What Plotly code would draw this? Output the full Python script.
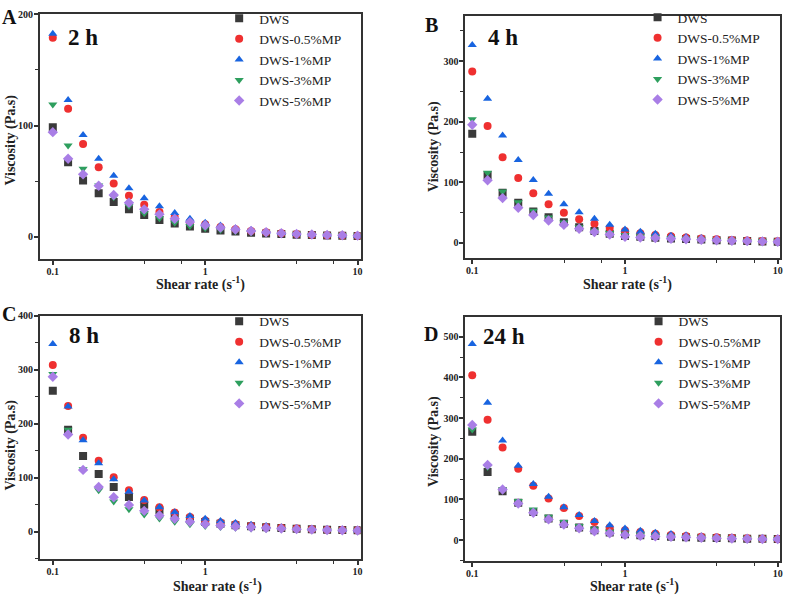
import plotly.graph_objects as go
from plotly.subplots import make_subplots

# shear rate points (s^-1), 10 per decade
shear_rate = [0.1, 0.126, 0.158, 0.2, 0.251, 0.316, 0.398, 0.501, 0.631, 0.794,
              1, 1.26, 1.58, 2, 2.51, 3.16, 3.98, 5.01, 6.31, 7.94, 10]

series_names = ["DWS", "DWS-0.5%MP", "DWS-1%MP", "DWS-3%MP", "DWS-5%MP"]

# 2 h
visc_2h_dws = [98.4, 67, 50.5, 39, 31, 24.5, 19.4, 15, 11.7, 9, 7, 5.5, 4.5, 3.5, 2.8, 2.2, 1.7, 1.3, 1, 0.8, 0.6]
visc_2h_05 = [179, 115, 83.4, 62.5, 47.8, 36.8, 28.7, 22, 17.6, 13, 11, 8.5, 6.5, 5, 3.8, 3, 2.2, 1.6, 1.2, 0.9, 0.7]
visc_2h_1 = [182.7, 122.9, 91.5, 70, 54.7, 43.6, 34.4, 27.2, 21.2, 16, 12.5, 10, 7.5, 5.8, 4.4, 3.3, 2.5, 1.9, 1.4, 1.0, 0.8]
visc_2h_3 = [119, 82, 61, 46, 35.5, 27.5, 21, 16.5, 12.5, 9.5, 7.5, 6, 4.8, 3.8, 3, 2.4, 1.9, 1.5, 1.1, 0.9, 0.7]
visc_2h_5 = [94, 70, 56, 45.7, 37.4, 30.5, 24.5, 20, 16, 13, 10.2, 8, 6.4, 5, 3.9, 3, 2.3, 1.8, 1.4, 1.1, 0.8]

# 4 h
visc_4h_dws = [180, 112, 83, 66.4, 52, 42.5, 34.3, 26, 19.6, 15, 11.4, 10, 8.5, 7.5, 6.5, 5.5, 4.5, 3.8, 3, 2.5, 2]
visc_4h_05 = [283, 193, 141.5, 107, 82, 64, 50, 39, 31.5, 25, 19.6, 16, 13, 11, 9, 7.4, 6, 4.8, 3.9, 3.2, 2.6]
visc_4h_1 = [326.6, 238, 177.5, 137, 104, 81, 64, 50.6, 39.7, 30, 22.3, 18.5, 15, 12, 9.8, 8, 6.5, 5.2, 4.2, 3.4, 2.7]
visc_4h_3 = [204, 116, 85, 67, 53.3, 42, 33.7, 26, 20, 16.3, 13, 11, 9.3, 8, 6.8, 5.8, 4.9, 4, 3.3, 2.7, 2.2]
visc_4h_5 = [195, 103.4, 74, 58, 46, 37, 30, 23.4, 18, 14, 10, 9, 8, 7, 6, 5.2, 4.4, 3.7, 3, 2.5, 2]

# 8 h
visc_8h_dws = [261, 189, 140, 107, 82.6, 64, 50, 39.8, 31, 24, 17.7, 14.5, 12, 10, 8.3, 6.8, 5.5, 4.5, 3.6, 3, 2.4]
visc_8h_05 = [309, 233, 174, 131.5, 101, 76.5, 58.7, 45, 35.5, 27, 20.8, 17, 13.5, 11, 8.8, 7.1, 5.7, 4.6, 3.7, 3, 2.4]
visc_8h_1 = [348, 232, 169.5, 126.6, 97, 74, 57.5, 45, 36, 29, 23.8, 19.5, 15.8, 12.8, 10.3, 8.3, 6.6, 5.3, 4.2, 3.3, 2.6]
visc_8h_3 = [292, 189, 115.6, 76.5, 56, 41.6, 31.8, 24.5, 18.3, 13.5, 10.4, 8.5, 7, 6, 5, 4.3, 3.7, 3.1, 2.6, 2.2, 1.8]
visc_8h_5 = [287, 180, 114.4, 82.6, 63.6, 49.5, 38.5, 30, 23.8, 18.3, 14, 11.5, 9.5, 8, 6.7, 5.6, 4.6, 3.8, 3.1, 2.6, 2.1]

# 24 h
visc_24h_dws = [266.7, 167.5, 120, 92, 69, 53, 40.6, 31, 24.4, 18.7, 14.6, 12, 10, 8.5, 7.3, 6.2, 5.3, 4.5, 3.8, 3.2, 2.7]
visc_24h_05 = [405, 296, 227.6, 175.6, 134, 102.4, 79, 59.3, 44.7, 31, 24.4, 20, 16, 13, 10.5, 8.6, 7, 5.7, 4.6, 3.8, 3.1]
visc_24h_1 = [482, 337.4, 244.7, 183, 138, 106.5, 81, 61.8, 47, 36.6, 28.5, 23, 18.5, 15, 12, 9.8, 8, 6.5, 5.3, 4.3, 3.5]
visc_24h_3 = [272, 179.7, 124.4, 96, 75.6, 57.7, 44.7, 35, 26.8, 21, 16.3, 13.5, 11, 9.3, 7.9, 6.7, 5.7, 4.8, 4, 3.4, 2.8]
visc_24h_5 = [283, 185, 124.4, 90, 67.5, 51, 38.2, 29.3, 22, 17, 13, 11, 9.3, 8, 6.9, 5.9, 5, 4.3, 3.6, 3, 2.5]

panels = [
    ("A", "2 h", [visc_2h_dws, visc_2h_05, visc_2h_1, visc_2h_3, visc_2h_5]),
    ("B", "4 h", [visc_4h_dws, visc_4h_05, visc_4h_1, visc_4h_3, visc_4h_5]),
    ("C", "8 h", [visc_8h_dws, visc_8h_05, visc_8h_1, visc_8h_3, visc_8h_5]),
    ("D", "24 h", [visc_24h_dws, visc_24h_05, visc_24h_1, visc_24h_3, visc_24h_5]),
]

colors = ["#3a3a3a", "#ef3030", "#1864e0", "#2e9f5e", "#a97ee6"]
symbols = ["square", "circle", "triangle-up", "triangle-down", "diamond"]

W, H = 790, 595
serif = "Liberation Serif, Times New Roman, serif"

# panel boxes in pixels (left, right, top, bottom)
boxes = [(40, 362, 8, 256), (467, 783, 10, 255), (40, 362, 313, 559), (467, 783, 314, 561)]
yranges = [[-20.6, 200.5], [-25.6, 374.7], [-51.4, 400], [-52, 548.8]]
xranges = [[-1.085, 1.02], [-1.046, 1.015], [-1.085, 1.02], [-1.046, 1.015]]
legend_pos = [(220, -3), (640, -4), (220, 303), (641, 303)]
label_pos = [(83, 32), (505, 32), (84, 333), (506, 334)]
letter_pos = [(10, 11), (433, 19), (9, 311), (433, 331)]
xtitle_pos = [(201, 280), (630, 280), (218, 585), (637, 585)]
ytitle_pos = [(11, 135), (435, 142), (11, 443), (435, 440)]

fig = make_subplots(rows=2, cols=2)

for p, (letter, tlabel, data) in enumerate(panels):
    r, c = p // 2 + 1, p % 2 + 1
    lg = "legend" if p == 0 else "legend%d" % (p + 1)
    for k in range(5):
        fig.add_trace(go.Scatter(x=shear_rate, y=data[k], mode="markers", name=series_names[k],
                                 legend=lg,
                                 marker=dict(symbol=symbols[k], color=colors[k], size=8,
                                             line=dict(width=0))),
                      row=r, col=c)

    L, R, T, B = boxes[p]
    xa = "xaxis" if p == 0 else "xaxis%d" % (p + 1)
    ya = "yaxis" if p == 0 else "yaxis%d" % (p + 1)
    fig.update_layout({
        xa: dict(domain=[L / W, R / W], type="log", range=xranges[p],
                 tickvals=[0.1, 1, 10], ticktext=["0.1", "1", "10"],
                 ticks="outside", ticklen=4, tickwidth=1.5, tickcolor="#333",
                 ticklabelstandoff=-2,
                 minor=dict(tickvals=[0.4, 0.7, 4, 7], ticks="outside", ticklen=3,
                            tickwidth=1.2, tickcolor="#333"),
                 showline=True, linecolor="#333", linewidth=1.5, mirror=True,
                 showgrid=False, zeroline=False,
                 tickfont=dict(family=serif, size=10, color="#222", weight="bold")),
        ya: dict(domain=[1 - B / H, 1 - T / H], range=yranges[p], dtick=100,
                 ticks="outside", ticklen=4, tickwidth=1.5, tickcolor="#333",
                 ticklabelstandoff=-1,
                 minor=dict(dtick=50, ticks="outside", ticklen=3, tickwidth=1.2, tickcolor="#333"),
                 showline=True, linecolor="#333", linewidth=1.5, mirror=True,
                 showgrid=False, zeroline=False,
                 tickfont=dict(family=serif, size=10, color="#222", weight="bold")),
        lg: dict(x=legend_pos[p][0] / W, y=1 - legend_pos[p][1] / H, xanchor="left", yanchor="top",
                 bgcolor="rgba(0,0,0,0)", tracegroupgap=0, itemwidth=30,
                 font=dict(family=serif, size=13.5, color="#222")),
    })

    # axis titles
    fig.add_annotation(x=xtitle_pos[p][0] / W, y=1 - xtitle_pos[p][1] / H, xref="paper", yref="paper",
                       text="Shear rate (s<sup>-1</sup>)", showarrow=False,
                       xanchor="center", yanchor="middle",
                       font=dict(family=serif, size=14, color="#222", weight="bold"))
    fig.add_annotation(x=ytitle_pos[p][0] / W, y=1 - ytitle_pos[p][1] / H, xref="paper", yref="paper",
                       text="Viscosity (Pa.s)", showarrow=False, textangle=-90,
                       xanchor="center", yanchor="middle",
                       font=dict(family=serif, size=14, color="#222", weight="bold"))
    # time label and panel letter
    fig.add_annotation(x=label_pos[p][0] / W, y=1 - label_pos[p][1] / H, xref="paper", yref="paper",
                       text=tlabel, showarrow=False, xanchor="center", yanchor="middle",
                       font=dict(family=serif, size=23, color="#111", weight="bold"))
    fig.add_annotation(x=letter_pos[p][0] / W, y=1 - letter_pos[p][1] / H, xref="paper", yref="paper",
                       text=letter, showarrow=False, xanchor="center", yanchor="middle",
                       font=dict(family=serif, size=20, color="#111", weight="bold"))

fig.update_layout(width=W, height=H, margin=dict(l=0, r=0, t=0, b=0),
                  plot_bgcolor="white", paper_bgcolor="white", showlegend=True)

# page body margin would shift the figure by 8 px
fig.write_html("out.html", config={"displayModeBar": False},
               post_script="document.body.style.margin='0';")
